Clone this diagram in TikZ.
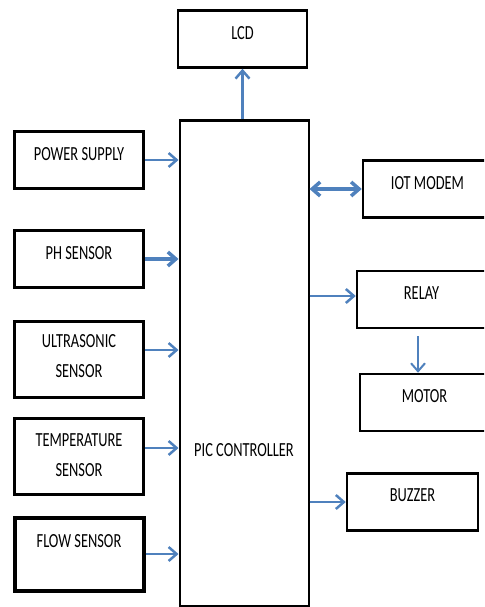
\documentclass[tikz,border=0pt]{standalone}
\usepackage{fontspec}
\setmainfont{Carlito}
\usepackage{graphicx}
\usepackage{tikz}
\usetikzlibrary{arrows.meta,positioning}

\definecolor{arrblue}{RGB}{79,129,189}
\newcommand{\nr}[1]{\scalebox{0.72}[1]{#1}}

\begin{document}
\begin{tikzpicture}[
    x=1pt, y=-1pt,
    block/.style={draw, line width=2.5pt, minimum width=129pt, minimum height=57pt, inner sep=0pt},
    lbl/.style={font=\fontsize{20}{30}\selectfont, align=center, inner sep=0pt},
    arrow/.style={-{Straight Barb[length=8pt,width=14pt]}, line width=2.5pt, draw=arrblue}
]
\useasboundingbox (0,0) rectangle (484,607);
\clip (0,0) rectangle (484,607);

% Controller and display
\node[block, line width=2pt, minimum height=485pt, label={[lbl, yshift=-87pt]center:\nr{PIC CONTROLLER}}] (pic) at (244,363) {};
\node[block, label={[lbl, yshift=6pt]center:\nr{LCD}}] (lcd) at (242.5,39) {};

% Input blocks
\node[block, label={[lbl, yshift=6pt]center:\nr{POWER SUPPLY}}] (psu) at (79,160) {};
\node[block, label={[lbl, yshift=6pt]center:\nr{PH SENSOR}}] (ph) at (79,259) {};
\node[block, minimum height=76pt, label={[lbl, yshift=3pt]center:\nr{ULTRASONIC}\\\nr{SENSOR}}] (ultra) at (79,359.5) {};
\node[block, minimum height=76pt, label={[lbl, yshift=1pt]center:\nr{TEMPERATURE}\\\nr{SENSOR}}] (temp) at (79,456.5) {};
\node[block, line width=4pt, minimum height=73pt, label={[lbl, yshift=13pt]center:\nr{FLOW SENSOR}}] (flow) at (79,554) {};

% Output blocks
\node[block, label={[lbl, yshift=6pt]center:\nr{IOT MODEM}}] (iot) at (427.5,189) {};
\node[block, label={[lbl, yshift=6pt]center:\nr{RELAY}}] (relay) at (421.5,299.5) {};
\node[block, label={[lbl, yshift=6pt]center:\nr{MOTOR}}] (motor) at (424.5,402.5) {};
\node[block, minimum width=131pt, label={[lbl, yshift=7pt]center:\nr{BUZZER}}] (buzzer) at (412.5,502) {};

% Connections
\draw[arrow] (pic.north -| lcd.south) -- (lcd.south);
\draw[arrow] (psu.east) -- (psu.east -| pic.west);
\draw[arrow, line width=3.5pt] (ph.east) -- (ph.east -| pic.west);
\draw[arrow] ([yshift=9.5pt]ultra.east) -- ([yshift=9.5pt]ultra.east -| pic.west);
\draw[arrow] ([yshift=8.5pt]temp.east) -- ([yshift=8.5pt]temp.east -| pic.west);
\draw[arrow] (flow.east) -- (flow.east -| pic.west);

\draw[arrow, {Straight Barb[length=8pt,width=14pt]}-{Straight Barb[length=8pt,width=14pt]}, line width=3.5pt] (iot.west -| pic.east) -- (iot.west);
\draw[arrow] ([yshift=3.5pt]relay.west -| pic.east) -- ([yshift=3.5pt]relay.west);
\draw[arrow, line width=2pt] ([xshift=-3.5pt, yshift=-7pt]relay.south) -- ([xshift=-3.5pt]relay.south |- motor.north);
\draw[arrow] (buzzer.west -| pic.east) -- (buzzer.west);

\end{tikzpicture}
\end{document}
